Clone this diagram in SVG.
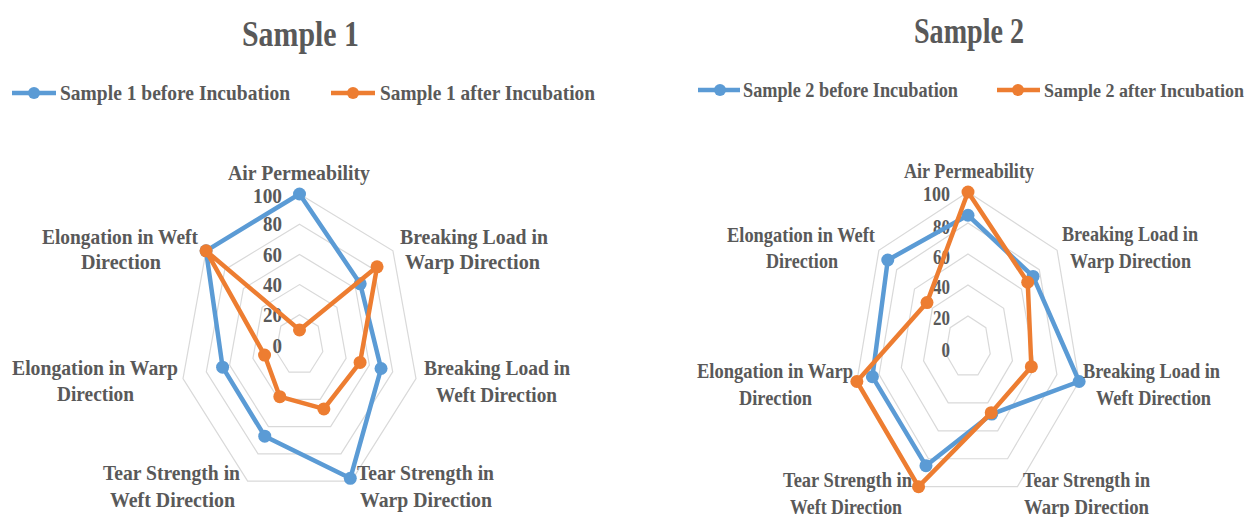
<svg xmlns="http://www.w3.org/2000/svg" width="1255" height="517" viewBox="0 0 1255 517">
<style>
text{font-family:"Liberation Serif","Times New Roman",serif;font-weight:bold;fill:#595959}
.title{font-size:35px}
.leg{font-size:22px}
.leg2{font-size:19px}
.lab{font-size:22px}
.num{font-size:22px;text-anchor:end}
.grid{fill:none;stroke:#d9d9d9;stroke-width:1.2}
.blue{fill:none;stroke:#5b9bd5;stroke-width:4.5;stroke-linejoin:round}
.orange{fill:none;stroke:#ed7d31;stroke-width:4.5;stroke-linejoin:round}
.mb{fill:#5b9bd5}
.mo{fill:#ed7d31}
</style>
<rect width="1255" height="517" fill="#ffffff"/>

<g id="chart1">
  <text class="title" x="242" y="46" textLength="117" lengthAdjust="spacingAndGlyphs">Sample 1</text>
  <g id="legend1">
    <line x1="12" y1="93" x2="56" y2="93" stroke="#5b9bd5" stroke-width="4.5"/>
    <circle class="mb" cx="34" cy="93" r="6"/>
    <text class="leg" x="60" y="100" textLength="230" lengthAdjust="spacingAndGlyphs">Sample 1 before Incubation</text>
    <line x1="331" y1="93" x2="375" y2="93" stroke="#ed7d31" stroke-width="4.5"/>
    <circle class="mo" cx="353" cy="93" r="6"/>
    <text class="leg" x="380" y="100" textLength="215" lengthAdjust="spacingAndGlyphs">Sample 1 after Incubation</text>
  </g>
  <g id="grid1">
    <polygon class="grid" points="299.5,194 392.93,250.85 416,378.6 351.35,481.05 247.65,481.05 183,378.6 206.07,250.85"/>
    <polygon class="grid" points="299.5,224.2 374.24,269.68 392.7,371.88 340.98,453.84 258.02,453.84 206.3,371.88 224.76,269.68"/>
    <polygon class="grid" points="299.5,254.4 355.56,288.51 369.4,365.16 330.61,426.63 268.39,426.63 229.6,365.16 243.44,288.51"/>
    <polygon class="grid" points="299.5,284.6 336.87,307.34 346.1,358.44 320.24,399.42 278.76,399.42 252.9,358.44 262.13,307.34"/>
    <polygon class="grid" points="299.5,314.8 318.19,326.17 322.8,351.72 309.87,372.21 289.13,372.21 276.2,351.72 280.81,326.17"/>
  </g>
  <g id="ticks1">
    <text class="num" x="282" y="203" textLength="29" lengthAdjust="spacingAndGlyphs">100</text>
    <text class="num" x="282" y="231" textLength="19" lengthAdjust="spacingAndGlyphs">80</text>
    <text class="num" x="282" y="262" textLength="19" lengthAdjust="spacingAndGlyphs">60</text>
    <text class="num" x="282" y="292" textLength="19" lengthAdjust="spacingAndGlyphs">40</text>
    <text class="num" x="282" y="322" textLength="19" lengthAdjust="spacingAndGlyphs">20</text>
    <text class="num" x="282" y="353" textLength="9.5" lengthAdjust="spacingAndGlyphs">0</text>
  </g>
  <g id="series1-before">
    <polygon class="blue" points="299.5,194 360.2,283.8 381.05,368.52 350.3,478.3 264.76,436.15 222.6,367.2 206.07,250.85"/>
    <circle class="mb" cx="299.5" cy="194" r="6.5"/>
    <circle class="mb" cx="360.2" cy="283.8" r="6.5"/>
    <circle class="mb" cx="381.05" cy="368.52" r="6.5"/>
    <circle class="mb" cx="350.3" cy="478.3" r="6.5"/>
    <circle class="mb" cx="264.76" cy="436.15" r="6.5"/>
    <circle class="mb" cx="222.6" cy="367.2" r="6.5"/>
    <circle class="mb" cx="206.07" cy="250.85" r="6.5"/>
  </g>
  <g id="series1-after">
    <polygon class="orange" points="299.5,329.9 377.05,266.86 360.08,362.47 323.87,408.94 279.8,396.7 264.55,355.08 206.07,250.85"/>
    <circle class="mo" cx="299.5" cy="329.9" r="6.5"/>
    <circle class="mo" cx="377.05" cy="266.86" r="6.5"/>
    <circle class="mo" cx="360.08" cy="362.47" r="6.5"/>
    <circle class="mo" cx="323.87" cy="408.94" r="6.5"/>
    <circle class="mo" cx="279.8" cy="396.7" r="6.5"/>
    <circle class="mo" cx="264.55" cy="355.08" r="6.5"/>
    <circle class="mo" cx="206.07" cy="250.85" r="6.5"/>
  </g>
  <g id="labels1">
    <text class="lab" x="228" y="180" textLength="142" lengthAdjust="spacingAndGlyphs">Air Permeability</text>
    <text class="lab" x="400" y="244" textLength="148" lengthAdjust="spacingAndGlyphs">Breaking Load in</text>
    <text class="lab" x="405" y="269" textLength="135" lengthAdjust="spacingAndGlyphs">Warp Direction</text>
    <text class="lab" x="424" y="375" textLength="146" lengthAdjust="spacingAndGlyphs">Breaking Load in</text>
    <text class="lab" x="436" y="402" textLength="121" lengthAdjust="spacingAndGlyphs">Weft Direction</text>
    <text class="lab" x="357" y="480" textLength="137" lengthAdjust="spacingAndGlyphs">Tear Strength in</text>
    <text class="lab" x="360" y="507" textLength="132" lengthAdjust="spacingAndGlyphs">Warp Direction</text>
    <text class="lab" x="103" y="480" textLength="137" lengthAdjust="spacingAndGlyphs">Tear Strength in</text>
    <text class="lab" x="110" y="507" textLength="125" lengthAdjust="spacingAndGlyphs">Weft Direction</text>
    <text class="lab" x="12" y="375" textLength="166" lengthAdjust="spacingAndGlyphs">Elongation in Warp</text>
    <text class="lab" x="57" y="401" textLength="77" lengthAdjust="spacingAndGlyphs">Direction</text>
    <text class="lab" x="42" y="244" textLength="156" lengthAdjust="spacingAndGlyphs">Elongation in Weft</text>
    <text class="lab" x="81" y="269" textLength="80" lengthAdjust="spacingAndGlyphs">Direction</text>
  </g>
</g>

<g id="chart2">
  <text class="title" x="914" y="43" textLength="110" lengthAdjust="spacingAndGlyphs">Sample 2</text>
  <g id="legend2">
    <line x1="698" y1="90" x2="740" y2="90" stroke="#5b9bd5" stroke-width="4.5"/>
    <circle class="mb" cx="720" cy="90" r="6"/>
    <text class="leg" x="743" y="97" textLength="215" lengthAdjust="spacingAndGlyphs">Sample 2 before Incubation</text>
    <line x1="997" y1="90" x2="1040" y2="90" stroke="#ed7d31" stroke-width="4.5"/>
    <circle class="mo" cx="1018" cy="90" r="6"/>
    <text class="leg2" x="1044" y="97" textLength="200" lengthAdjust="spacingAndGlyphs">Sample 2 after Incubation</text>
  </g>
  <g id="grid2">
    <polygon class="grid" points="968,192 1057.13,250.36 1079.14,381.49 1017.46,486.66 918.54,486.66 856.86,381.49 878.87,250.36"/>
    <polygon class="grid" points="968,223 1039.3,269.69 1056.91,374.59 1007.57,458.73 928.43,458.73 879.09,374.59 896.7,269.69"/>
    <polygon class="grid" points="968,254 1021.48,289.02 1034.68,367.69 997.68,430.8 938.32,430.8 901.32,367.69 914.52,289.02"/>
    <polygon class="grid" points="968,285 1003.65,308.34 1012.46,360.8 987.78,402.86 948.22,402.86 923.54,360.8 932.35,308.34"/>
    <polygon class="grid" points="968,316 985.83,327.67 990.23,353.9 977.89,374.93 958.11,374.93 945.77,353.9 950.17,327.67"/>
  </g>
  <g id="ticks2">
    <text class="num" x="950" y="201" textLength="27" lengthAdjust="spacingAndGlyphs">100</text>
    <text class="num" x="950" y="234" textLength="17" lengthAdjust="spacingAndGlyphs">80</text>
    <text class="num" x="950" y="264" textLength="17" lengthAdjust="spacingAndGlyphs">60</text>
    <text class="num" x="950" y="294" textLength="17" lengthAdjust="spacingAndGlyphs">40</text>
    <text class="num" x="950" y="325" textLength="17" lengthAdjust="spacingAndGlyphs">20</text>
    <text class="num" x="950" y="357" textLength="8.5" lengthAdjust="spacingAndGlyphs">0</text>
  </g>
  <g id="series2-before">
    <polygon class="blue" points="968,215.25 1033.06,276.45 1079.14,381.49 991.74,414.04 925.96,465.71 872.4,376.7 887.78,260.02"/>
    <circle class="mb" cx="968" cy="215.25" r="6.5"/>
    <circle class="mb" cx="1033.06" cy="276.45" r="6.5"/>
    <circle class="mb" cx="1079.14" cy="381.49" r="6.5"/>
    <circle class="mb" cx="991.74" cy="414.04" r="6.5"/>
    <circle class="mb" cx="925.96" cy="465.71" r="6.5"/>
    <circle class="mb" cx="872.4" cy="376.7" r="6.5"/>
    <circle class="mb" cx="887.78" cy="260.02" r="6.5"/>
  </g>
  <g id="series2-after">
    <polygon class="orange" points="968,192 1027.72,282.25 1031.35,366.66 991.25,412.64 918.54,486.66 856.86,381.49 927,302.55"/>
    <circle class="mo" cx="968" cy="192" r="6.5"/>
    <circle class="mo" cx="1027.72" cy="282.25" r="6.5"/>
    <circle class="mo" cx="1031.35" cy="366.66" r="6.5"/>
    <circle class="mo" cx="991.25" cy="412.64" r="6.5"/>
    <circle class="mo" cx="918.54" cy="486.66" r="6.5"/>
    <circle class="mo" cx="856.86" cy="381.49" r="6.5"/>
    <circle class="mo" cx="927" cy="302.55" r="6.5"/>
  </g>
  <g id="labels2">
    <text class="lab" x="904" y="178" textLength="130" lengthAdjust="spacingAndGlyphs">Air Permeability</text>
    <text class="lab" x="1062" y="241" textLength="136" lengthAdjust="spacingAndGlyphs">Breaking Load in</text>
    <text class="lab" x="1070" y="268" textLength="121" lengthAdjust="spacingAndGlyphs">Warp Direction</text>
    <text class="lab" x="1083" y="378" textLength="137" lengthAdjust="spacingAndGlyphs">Breaking Load in</text>
    <text class="lab" x="1096" y="405" textLength="115" lengthAdjust="spacingAndGlyphs">Weft Direction</text>
    <text class="lab" x="1023" y="487" textLength="127" lengthAdjust="spacingAndGlyphs">Tear Strength in</text>
    <text class="lab" x="1024" y="514" textLength="125" lengthAdjust="spacingAndGlyphs">Warp Direction</text>
    <text class="lab" x="783" y="487" textLength="129" lengthAdjust="spacingAndGlyphs">Tear Strength in</text>
    <text class="lab" x="790" y="514" textLength="112" lengthAdjust="spacingAndGlyphs">Weft Direction</text>
    <text class="lab" x="697" y="378" textLength="156" lengthAdjust="spacingAndGlyphs">Elongation in Warp</text>
    <text class="lab" x="739" y="405" textLength="73" lengthAdjust="spacingAndGlyphs">Direction</text>
    <text class="lab" x="727" y="242" textLength="148" lengthAdjust="spacingAndGlyphs">Elongation in Weft</text>
    <text class="lab" x="766" y="268" textLength="72" lengthAdjust="spacingAndGlyphs">Direction</text>
  </g>
</g>
</svg>
